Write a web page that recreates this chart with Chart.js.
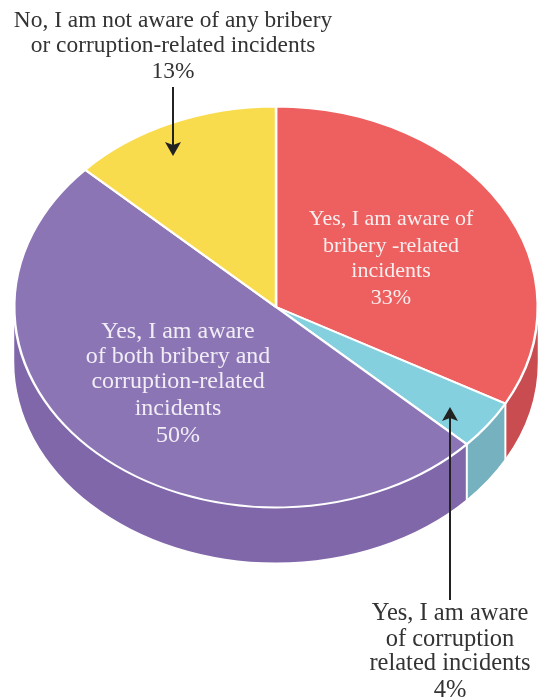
<!DOCTYPE html>
<html>
<head>
<meta charset="utf-8">
<style>
  html, body { margin: 0; padding: 0; background: #fff; }
  #wrap { position: relative; width: 545px; height: 700px; }
</style>
<script src="https://cdn.jsdelivr.net/npm/chart.js@4"></script>
</head>
<body>
<div id="wrap"><canvas id="pie" width="545" height="700"></canvas></div>
<script>
// values
const categories = [
    'Yes, I am aware of bribery -related incidents',
    'Yes, I am aware of corruption related incidents',
    'Yes, I am aware of both bribery and corruption-related incidents',
    'No, I am not aware of any bribery or corruption-related incidents'
];
const shares = [33, 4, 50, 13];
const faceColors = ['#EE5F5F', '#84D0DE', '#8B75B5', '#F9DC4E'];
const wallColors = ['#C94C50', '#75B1BE', '#8067AA', '#D9BC3E'];

const labelLines = [
    ['Yes, I am aware of', 'bribery -related', 'incidents', '33%'],
    ['Yes, I am aware', 'of corruption', 'related incidents', '4%'],
    ['Yes, I am aware', 'of both bribery and', 'corruption-related', 'incidents', '50%'],
    ['No, I am not aware of any bribery', 'or corruption-related incidents', '13%']
];
const labelX = [391, 450, 178, 173];
const labelBaselines = [
    [225, 252, 277, 304],
    [620, 646, 670, 697],
    [338, 363, 388, 415, 442],
    [27, 52, 78]
];
const labelColors = ['#F7EFEF', '#333333', '#F1EDF6', '#333333'];
const labelSizes = [22, 24.5, 24, 23.4];

// tilt of the disc
const tilt = 0.766;
const depth = 55;
const centerY = 307;

function tiltAt(ctx) {
    ctx.translate(0, centerY);
    ctx.scale(1, tilt);
    ctx.translate(0, -centerY);
}

function drawArrow(ctx, x, fromY, tipY) {
    const dir = tipY > fromY ? 1 : -1;
    ctx.strokeStyle = '#222222';
    ctx.fillStyle = '#222222';
    ctx.lineWidth = 2;
    ctx.beginPath();
    ctx.moveTo(x, fromY);
    ctx.lineTo(x, tipY - dir * 8);
    ctx.stroke();
    ctx.beginPath();
    ctx.moveTo(x, tipY);
    ctx.lineTo(x - 8, tipY - dir * 14);
    ctx.lineTo(x, tipY - dir * 11);
    ctx.lineTo(x + 8, tipY - dir * 14);
    ctx.closePath();
    ctx.fill();
}

const disc3d = {
    id: 'disc3d',
    beforeDatasetsDraw(chart) {
        const ctx = chart.ctx;
        const arcs = chart.getDatasetMeta(0).data;

        // side wall, only the part of each arc facing the viewer
        arcs.forEach((a, i) => {
            // angles run from -PI/2 upward, front half is 0..PI
            const from = Math.max(a.startAngle, 0);
            const to = Math.min(a.endAngle, Math.PI);
            if (to <= from) return;
            const ry = a.outerRadius * tilt;
            ctx.save();
            ctx.fillStyle = wallColors[i];
            ctx.beginPath();
            ctx.ellipse(a.x, centerY, a.outerRadius, ry, 0, from, to);
            ctx.ellipse(a.x, centerY + depth, a.outerRadius, ry, 0, to, from, true);
            ctx.closePath();
            ctx.fill();
            ctx.restore();
        });

        // white seams on the front of the wall
        arcs.forEach(a => {
            if (a.endAngle >= Math.PI) return;
            const x = a.x + a.outerRadius * Math.cos(a.endAngle);
            const y = centerY + a.outerRadius * Math.sin(a.endAngle) * tilt;
            ctx.save();
            ctx.strokeStyle = '#ffffff';
            ctx.lineWidth = 2;
            ctx.beginPath();
            ctx.moveTo(x, y);
            ctx.lineTo(x, y + depth + 1);
            ctx.stroke();
            ctx.restore();
        });

        // flat top is drawn by the chart itself, only squashed
        ctx.save();
        tiltAt(ctx);
    },
    afterDatasetsDraw(chart) {
        chart.ctx.restore();
    },
    afterDraw(chart) {
        const ctx = chart.ctx;
        ctx.save();
        drawArrow(ctx, 173, 87, 156);
        drawArrow(ctx, 450, 600, 407);
        ctx.textAlign = 'center';
        ctx.textBaseline = 'alphabetic';
        labelLines.forEach((lines, i) => {
            ctx.font = labelSizes[i] + 'px "Liberation Serif", serif';
            ctx.fillStyle = labelColors[i];
            lines.forEach((line, j) => ctx.fillText(line, labelX[i], labelBaselines[i][j]));
        });
        ctx.restore();
    }
};

new Chart(document.getElementById('pie').getContext('2d'), {
    type: 'pie',
    data: {
        labels: categories,
        datasets: [{
            data: shares,
            backgroundColor: faceColors,
            borderColor: '#ffffff',
            borderWidth: 2.5,
            clip: false
        }]
    },
    options: {
        responsive: false,
        animation: false,
        layout: { padding: { left: 13, right: 6, top: 44, bottom: 130 } },
        plugins: {
            legend: { display: false },
            tooltip: { enabled: false },
            title: { display: false }
        }
    },
    plugins: [disc3d]
});
</script>
</body>
</html>
